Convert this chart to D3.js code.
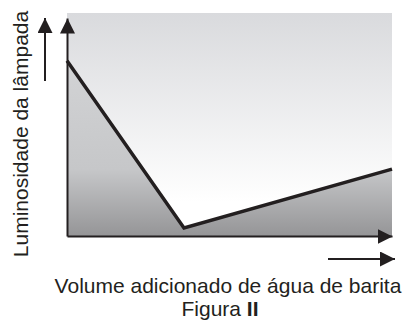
<!DOCTYPE html>
<html>
<head>
<meta charset="utf-8">
<script src="https://cdn.jsdelivr.net/npm/d3@7"></script>
<style>
  body { margin: 0; background: white; }
  svg { display: block; }
  text { font-family: "Liberation Sans", Arial, sans-serif; fill: #231f20; }
</style>
</head>
<body>
<div class="svg__graph"></div>
<script>
const width = 408;
const height = 321;

// volume of barita water added (arbitrary units) vs lamp luminosity
const volume = [0, 3.6, 10];
const luminosity = [7.86, 0.36, 3.0];

const yLabel = 'Luminosidade da lâmpada';
const xLabel = 'Volume adicionado de água de barita';
const figLabel = 'Figura ';
const figNumber = 'II';

const data = volume.map((v, i) => ({ volume: v, luminosity: luminosity[i] }));

const svg = d3.select("div.svg__graph").append("svg")
  .attr("width", width)
  .attr("height", height);

const scaleX = d3.scaleLinear()
  .domain([0, 10])
  .range([67, 392]);

const scaleY = d3.scaleLinear()
  .domain([0, 10])
  .range([236, 13]);

// gradients
const defs = svg.append('defs');
const upperGrad = defs.append('linearGradient')
  .attr('id', 'upperGrad')
  .attr('gradientUnits', 'userSpaceOnUse')
  .attr('x1', 0).attr('x2', 0)
  .attr('y1', scaleY(10)).attr('y2', scaleY(0));
upperGrad.append('stop').attr('offset', '0%').attr('stop-color', '#d9dadd');
upperGrad.append('stop').attr('offset', '85%').attr('stop-color', '#ffffff');
upperGrad.append('stop').attr('offset', '100%').attr('stop-color', '#ffffff');

const lowerGrad = defs.append('linearGradient')
  .attr('id', 'lowerGrad')
  .attr('gradientUnits', 'userSpaceOnUse')
  .attr('x1', 0).attr('x2', 0)
  .attr('y1', scaleY(10)).attr('y2', scaleY(0));
lowerGrad.append('stop').attr('offset', '0%').attr('stop-color', '#d8d9db');
lowerGrad.append('stop').attr('offset', '70%').attr('stop-color', '#c6c7c9');
lowerGrad.append('stop').attr('offset', '100%').attr('stop-color', '#959597');

// arrow head marker
defs.append('marker')
  .attr('id', 'arrowHead')
  .attr('markerUnits', 'userSpaceOnUse')
  .attr('viewBox', '0 0 15 15')
  .attr('refX', 15)
  .attr('refY', 7.5)
  .attr('markerWidth', 15)
  .attr('markerHeight', 15)
  .attr('orient', 'auto')
  .append('path')
  .attr('d', 'M0,0L15,7.5L0,15Z')
  .attr('fill', '#231f20');

// shaded areas above and below the curve
const upperArea = d3.area()
  .x(d => scaleX(d.volume))
  .y0(d => scaleY(d.luminosity))
  .y1(() => scaleY(10));

const lowerArea = d3.area()
  .x(d => scaleX(d.volume))
  .y0(() => scaleY(0))
  .y1(d => scaleY(d.luminosity));

svg.append('path')
  .datum(data)
  .attr('d', upperArea)
  .attr('fill', 'url(#upperGrad)');

svg.append('path')
  .datum(data)
  .attr('d', lowerArea)
  .attr('fill', 'url(#lowerGrad)');

// the curve
svg.append('path')
  .datum(data)
  .attr('d', d3.line().x(d => scaleX(d.volume)).y(d => scaleY(d.luminosity)))
  .attr('fill', 'none')
  .attr('stroke', '#231f20')
  .attr('stroke-width', 3.5)
  .attr('stroke-linejoin', 'miter');

// axes (no ticks, arrow at the end)
const axisY = d3.scaleLinear().domain([0, 10]).range([scaleY(0), 18]);
const yAxis = svg.append('g')
  .attr('transform', `translate(${scaleX(0)}, 0)`)
  .call(d3.axisLeft(axisY).ticks(0).tickSizeOuter(0));

const xAxis = svg.append('g')
  .attr('transform', `translate(0, ${scaleY(0)})`)
  .call(d3.axisBottom(scaleX).ticks(0).tickSizeOuter(0));

[yAxis, xAxis].forEach(ax => {
  ax.select('.domain')
    .attr('stroke', '#231f20')
    .attr('stroke-width', 2)
    .attr('marker-end', 'url(#arrowHead)');
});

// separate direction arrows
svg.append('line')
  .attr('x1', 45).attr('y1', 81)
  .attr('x2', 45).attr('y2', 18)
  .attr('stroke', '#231f20')
  .attr('stroke-width', 2)
  .attr('marker-end', 'url(#arrowHead)');

svg.append('line')
  .attr('x1', 328).attr('y1', 259)
  .attr('x2', 395).attr('y2', 259)
  .attr('stroke', '#231f20')
  .attr('stroke-width', 2)
  .attr('marker-end', 'url(#arrowHead)');

// labels
svg.append('text')
  .attr('transform', 'translate(28, 134) rotate(-90)')
  .attr('text-anchor', 'middle')
  .style('font-size', '21px')
  .text(yLabel);

svg.append('text')
  .attr('x', 228)
  .attr('y', 293)
  .attr('text-anchor', 'middle')
  .style('font-size', '21px')
  .text(xLabel);

const fig = svg.append('text')
  .attr('x', 220)
  .attr('y', 316)
  .attr('text-anchor', 'middle')
  .style('font-size', '21px');
fig.append('tspan').text(figLabel);
fig.append('tspan').style('font-weight', 'bold').text(figNumber);
</script>
</body>
</html>
